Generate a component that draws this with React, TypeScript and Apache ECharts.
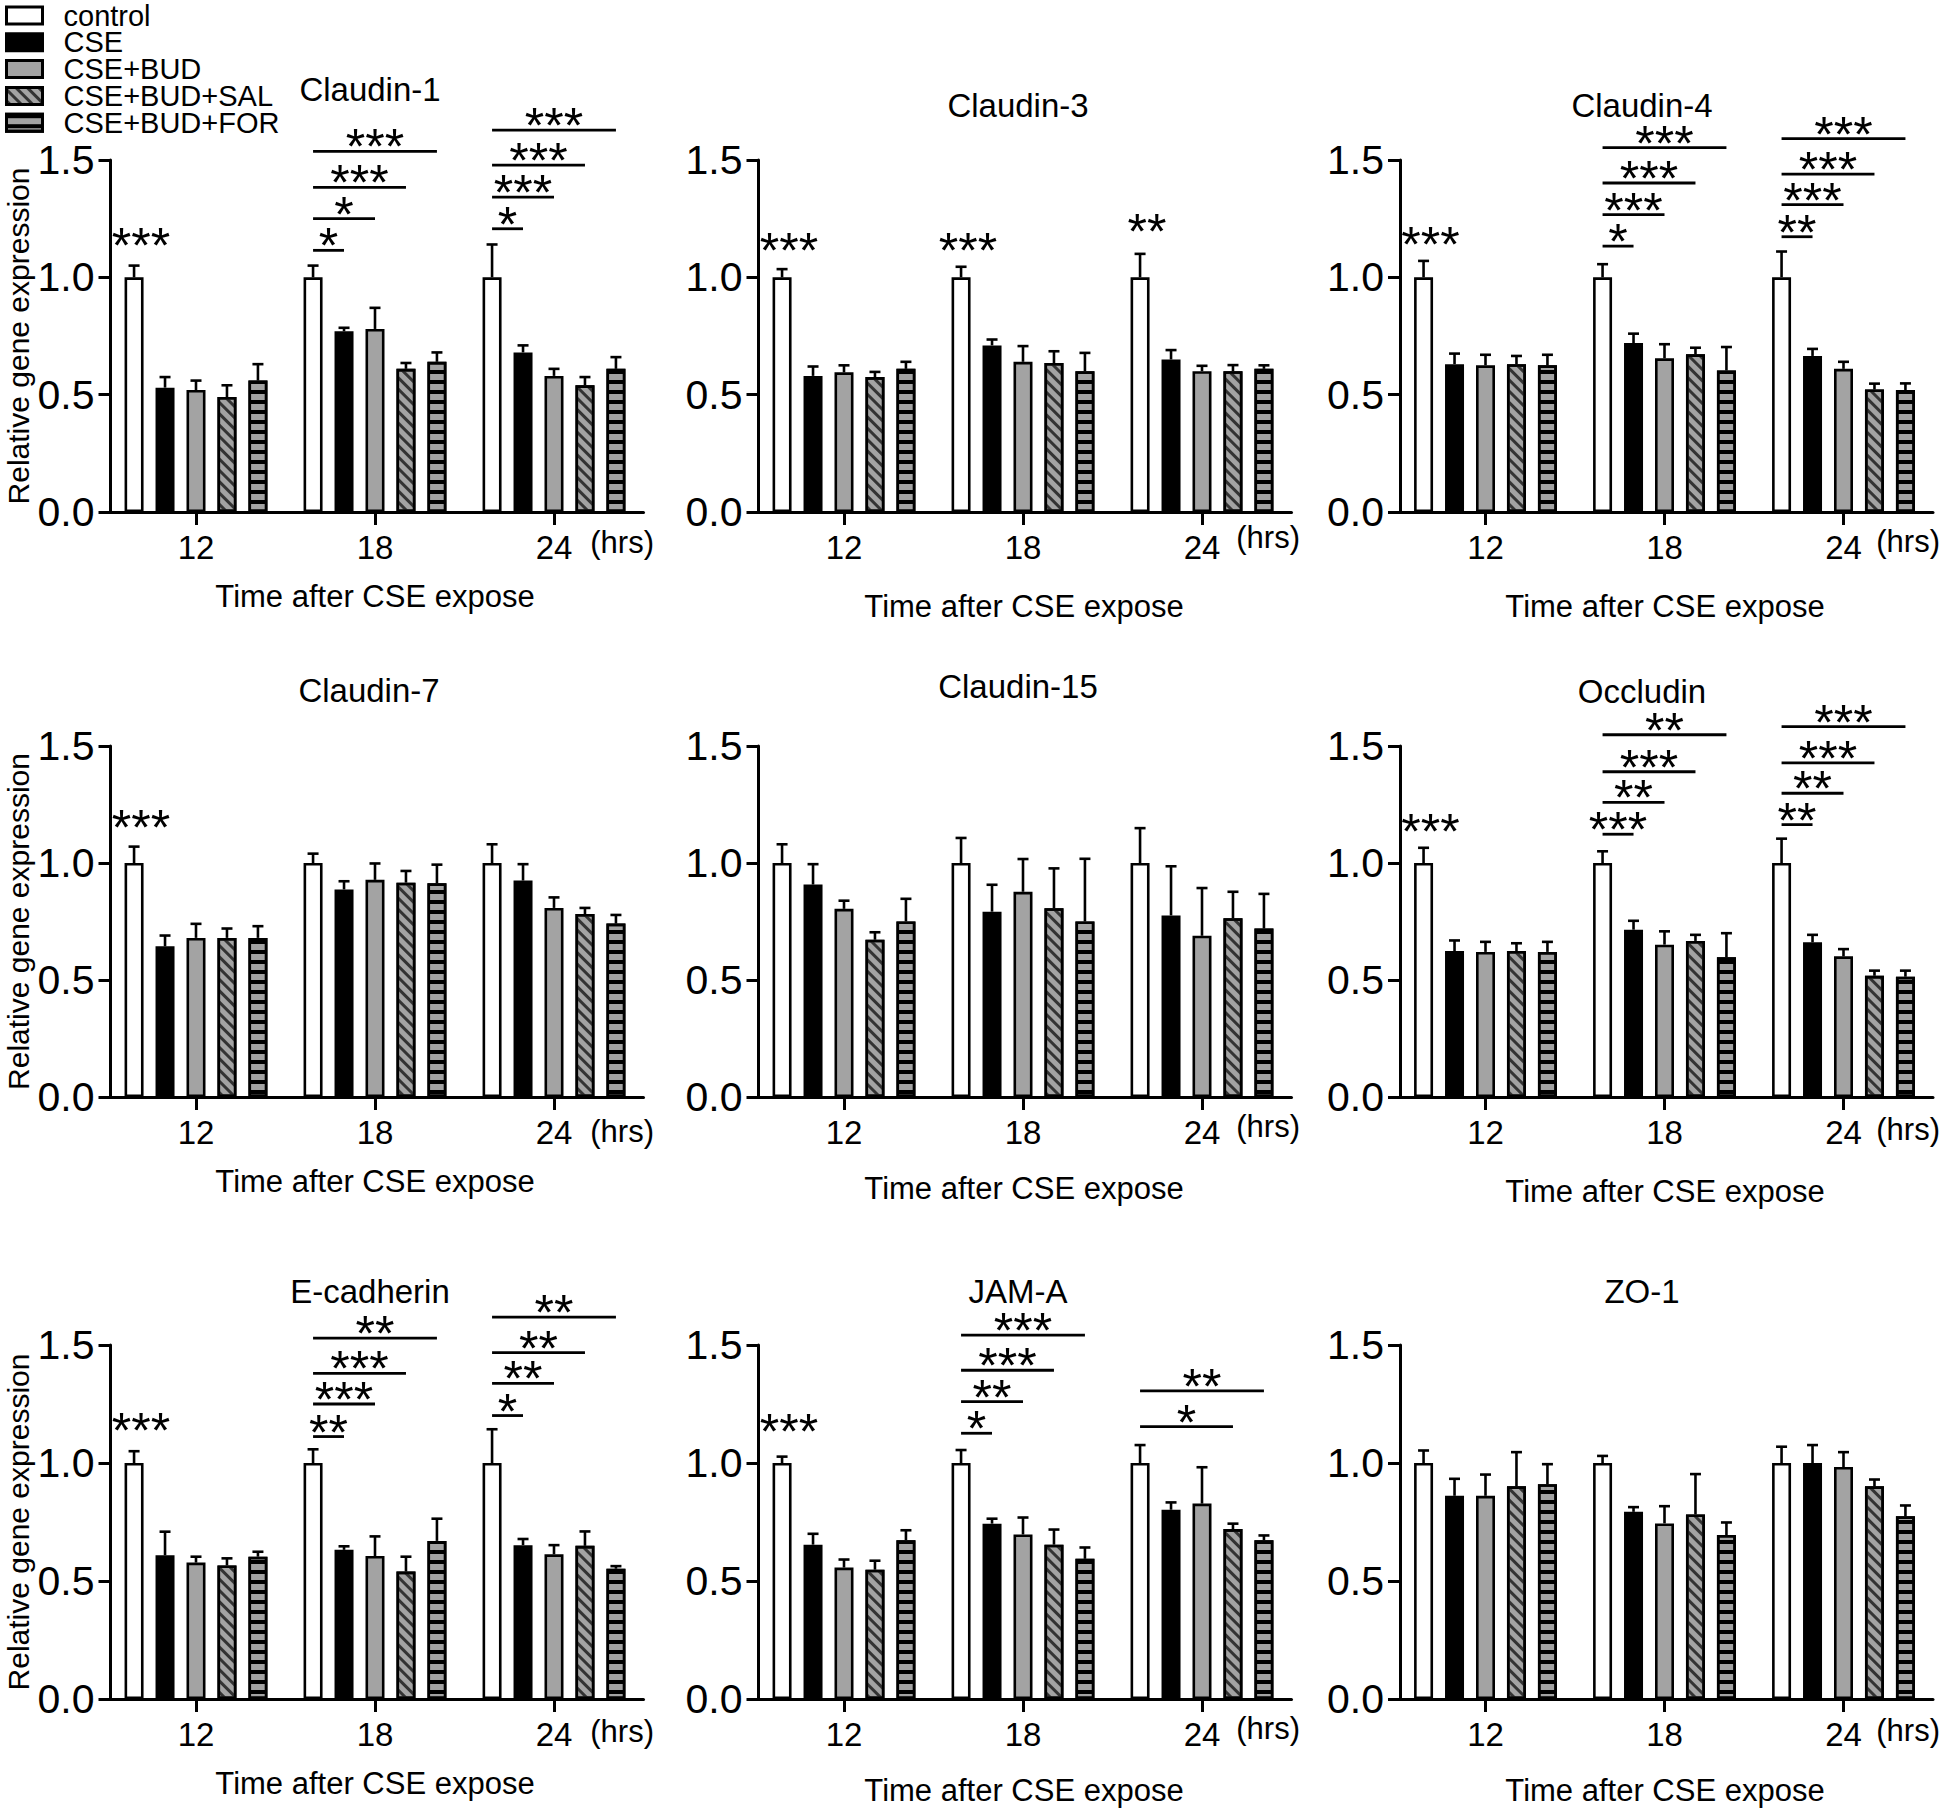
import React, { useEffect, useRef } from 'react';
import * as echarts from 'echarts';

const FONT = "'Liberation Sans', Arial, Helvetica, sans-serif";

const groups = ['control', 'CSE', 'CSE+BUD', 'CSE+BUD+SAL', 'CSE+BUD+FOR'];
const times = ['12', '18', '24'];
const panelTitles = ['Claudin-1', 'Claudin-3', 'Claudin-4', 'Claudin-7', 'Claudin-15', 'Occludin', 'E-cadherin', 'JAM-A', 'ZO-1'];

// means[group][time], errs[group][time]; sig: [timeIndex, targetGroup (-1 = over control), level, label]
const claudin1Mean = [[1, 1, 1], [0.53, 0.77, 0.68], [0.52, 0.78, 0.58], [0.49, 0.61, 0.54], [0.56, 0.64, 0.61]];
const claudin1Err = [[0.05, 0.05, 0.14], [0.045, 0.015, 0.03], [0.04, 0.09, 0.03], [0.05, 0.025, 0.035], [0.07, 0.04, 0.05]];
const claudin1Sig = [[0, -1, 1.164, '***'], [1, 1, 1.115, '*'], [1, 2, 1.25, '*'], [1, 3, 1.383, '***'], [1, 4, 1.537, '***'], [2, 1, 1.207, '*'], [2, 2, 1.342, '***'], [2, 3, 1.478, '***'], [2, 4, 1.627, '***']];

const claudin3Mean = [[1, 1, 1], [0.58, 0.71, 0.65], [0.595, 0.64, 0.6], [0.575, 0.635, 0.6], [0.61, 0.6, 0.61]];
const claudin3Err = [[0.035, 0.045, 0.1], [0.04, 0.025, 0.04], [0.03, 0.067, 0.023], [0.022, 0.05, 0.026], [0.03, 0.078, 0.015]];
const claudin3Sig = [[0, -1, 1.142, '***'], [1, -1, 1.142, '***'], [2, -1, 1.221, '**']];

const claudin4Mean = [[1, 1, 1], [0.63, 0.72, 0.665], [0.625, 0.655, 0.61], [0.63, 0.672, 0.522], [0.625, 0.603, 0.52]];
const claudin4Err = [[0.07, 0.056, 0.11], [0.045, 0.04, 0.03], [0.045, 0.06, 0.03], [0.035, 0.028, 0.025], [0.045, 0.1, 0.028]];
const claudin4Sig = [[0, -1, 1.168, '***'], [1, 1, 1.133, '*'], [1, 2, 1.267, '***'], [1, 3, 1.402, '***'], [1, 4, 1.553, '***'], [2, 1, 1.173, '**'], [2, 2, 1.31, '***'], [2, 3, 1.44, '***'], [2, 4, 1.591, '***']];

const claudin7Mean = [[1, 1, 1], [0.644, 0.887, 0.925], [0.68, 0.928, 0.808], [0.68, 0.916, 0.782], [0.68, 0.913, 0.741]];
const claudin7Err = [[0.07, 0.04, 0.08], [0.046, 0.035, 0.07], [0.06, 0.07, 0.045], [0.04, 0.05, 0.026], [0.05, 0.08, 0.037]];
const claudin7Sig = [[0, -1, 1.181, '***']];

const claudin15Mean = [[1, 1, 1], [0.908, 0.792, 0.776], [0.804, 0.877, 0.689], [0.672, 0.807, 0.764], [0.75, 0.75, 0.72]];
const claudin15Err = [[0.08, 0.107, 0.149], [0.087, 0.115, 0.21], [0.035, 0.14, 0.204], [0.032, 0.17, 0.113], [0.097, 0.268, 0.148]];
const claudin15Sig: any[] = [];

const occludinMean = [[1, 1, 1], [0.624, 0.715, 0.661], [0.62, 0.651, 0.601], [0.624, 0.667, 0.518], [0.62, 0.597, 0.514]];
const occludinErr = [[0.065, 0.05, 0.104], [0.045, 0.038, 0.032], [0.043, 0.057, 0.031], [0.033, 0.026, 0.022], [0.043, 0.103, 0.026]];
const occludinSig = [[0, -1, 1.164, '***'], [1, 1, 1.123, '***'], [1, 2, 1.259, '**'], [1, 3, 1.39, '***'], [1, 4, 1.548, '**'], [2, 1, 1.164, '**'], [2, 2, 1.298, '**'], [2, 3, 1.428, '***'], [2, 4, 1.583, '***']];

const ecadMean = [[1, 1, 1], [0.609, 0.632, 0.652], [0.578, 0.606, 0.613], [0.566, 0.54, 0.649], [0.603, 0.67, 0.552]];
const ecadErr = [[0.05, 0.058, 0.143], [0.1, 0.015, 0.026], [0.025, 0.083, 0.039], [0.03, 0.063, 0.061], [0.021, 0.094, 0.011]];
const ecadSig = [[0, -1, 1.166, '***'], [1, 1, 1.112, '**'], [1, 2, 1.25, '***'], [1, 3, 1.38, '***'], [1, 4, 1.529, '**'], [2, 1, 1.201, '*'], [2, 2, 1.337, '**'], [2, 3, 1.468, '**'], [2, 4, 1.618, '**']];

const jamaMean = [[1, 1, 1], [0.654, 0.743, 0.802], [0.557, 0.697, 0.828], [0.548, 0.654, 0.72], [0.673, 0.594, 0.673]];
const jamaErr = [[0.027, 0.055, 0.076], [0.046, 0.021, 0.031], [0.034, 0.072, 0.154], [0.038, 0.064, 0.023], [0.042, 0.048, 0.02]];
const jamaSig = [[0, -1, 1.161, '***'], [1, 1, 1.126, '*'], [1, 2, 1.26, '**'], [1, 3, 1.393, '***'], [1, 4, 1.542, '***'], [2, 3, 1.154, '*'], [2, 4, 1.306, '**']];

const zo1Mean = [[1, 1, 1], [0.861, 0.793, 1.0], [0.861, 0.744, 0.983], [0.901, 0.782, 0.901], [0.91, 0.695, 0.774]];
const zo1Err = [[0.053, 0.03, 0.069], [0.072, 0.02, 0.076], [0.09, 0.073, 0.063], [0.145, 0.171, 0.029], [0.085, 0.053, 0.046]];
const zo1Sig: any[] = [];

const panelMeans = [claudin1Mean, claudin3Mean, claudin4Mean, claudin7Mean, claudin15Mean, occludinMean, ecadMean, jamaMean, zo1Mean];
const panelErrs = [claudin1Err, claudin3Err, claudin4Err, claudin7Err, claudin15Err, occludinErr, ecadErr, jamaErr, zo1Err];
const panelSigs = [claudin1Sig, claudin3Sig, claudin4Sig, claudin7Sig, claudin15Sig, occludinSig, ecadSig, jamaSig, zo1Sig];

// ---- layout (pixels) ----
const COL_LEFT = [106.5, 754.5, 1396];
const ROW_TOP = [160, 746, 1345];
const ROW_H = [352, 351, 354];
const GRID_W = 537;
const BAR_W = 19;
const BAR_GAP = 0.63;
const STEP = BAR_W * (1 + BAR_GAP);
const CAP = 5.5;
const STAR_SIZE = 50;
const TITLE_POS = [[370, 89], [1018, 105], [1642, 105], [369, 690], [1018, 686], [1642, 691], [370, 1291], [1018, 1291], [1642, 1291]];
const XTITLE_X = [375, 1024, 1665];
const XTITLE_Y = [[596, 606, 606], [1181, 1188, 1191], [1783, 1790, 1790]];
const HRS_X = [654, 1300, 1940];
const HRS_Y = [[542, 537, 541], [1131, 1126, 1129], [1731, 1728, 1730]];

const GRAY = '#a3a3a3';
const groupStyles: any[] = [
  { color: '#ffffff', borderColor: '#000', borderWidth: 2.6 },
  { color: '#000000', borderColor: '#000', borderWidth: 2.6 },
  { color: GRAY, borderColor: '#000', borderWidth: 2.6 },
  { color: GRAY, borderColor: '#000', borderWidth: 2.6, decal: { symbol: 'rect', symbolSize: 1, dashArrayX: [1, 0], dashArrayY: [3, 5], rotation: Math.PI / 4, color: '#333333' } },
  { color: GRAY, borderColor: '#000', borderWidth: 2.6, decal: { symbol: 'rect', symbolSize: 1, dashArrayX: [1, 0], dashArrayY: [4, 5.5], rotation: 0, color: '#000000' } },
];

function buildOption() {
  const grid: any[] = [];
  const xAxis: any[] = [];
  const yAxis: any[] = [];
  const series: any[] = [];
  const graphic: any[] = [];

  for (let p = 0; p < 9; p++) {
    const row = Math.floor(p / 3);
    const col = p % 3;
    grid.push({ left: COL_LEFT[col], top: ROW_TOP[row], width: GRID_W, height: ROW_H[row], containLabel: false });
    xAxis.push({
      type: 'category', gridIndex: p, data: times,
      axisLine: { show: true, lineStyle: { color: '#000', width: 3 } },
      axisTick: { show: true, alignWithLabel: true, length: 13, lineStyle: { color: '#000', width: 3 } },
      axisLabel: { color: '#000', fontSize: 33, fontFamily: FONT, margin: 19 },
      splitLine: { show: false },
    });
    yAxis.push({
      type: 'value', gridIndex: p, min: 0, max: 1.5, interval: 0.5, offset: -4,
      axisLine: { show: true, lineStyle: { color: '#000', width: 3 } },
      axisTick: { show: true, length: 12, lineStyle: { color: '#000', width: 3 } },
      axisLabel: { color: '#000', fontSize: 41, fontFamily: FONT, margin: 16, formatter: (v: number) => v.toFixed(1) },
      splitLine: { show: false },
    });

    const means = panelMeans[p];
    const errs = panelErrs[p];
    for (let g = 0; g < 5; g++) {
      series.push({
        type: 'bar', name: groups[g], xAxisIndex: p, yAxisIndex: p,
        data: means[g], barWidth: BAR_W, barGap: (BAR_GAP * 100) + '%',
        itemStyle: groupStyles[g], silent: true, emphasis: { disabled: true }, z: 2,
      });
    }
    const errData: number[][] = [];
    for (let g = 0; g < 5; g++) for (let t = 0; t < 3; t++) errData.push([t, g, means[g][t], errs[g][t]]);
    series.push({
      type: 'custom', name: 'err' + p, xAxisIndex: p, yAxisIndex: p, silent: true, z: 3,
      encode: { x: 0, y: 2 }, data: errData, clip: false,
      renderItem: (params: any, api: any) => {
        const t = api.value(0), g = api.value(1), m = api.value(2), e = api.value(3);
        const base = api.coord([t, m]);
        const top = api.coord([t, m + e]);
        const x = base[0] + (g - 2) * STEP;
        const st = { stroke: '#000', lineWidth: 2.6 };
        return {
          type: 'group', children: [
            { type: 'line', shape: { x1: x, y1: base[1], x2: x, y2: top[1] }, style: st },
            { type: 'line', shape: { x1: x - CAP, y1: top[1], x2: x + CAP, y2: top[1] }, style: st },
          ],
        };
      },
    });
    const sig = panelSigs[p];
    if (sig.length) {
      series.push({
        type: 'custom', name: 'sig' + p, xAxisIndex: p, yAxisIndex: p, silent: true, z: 4,
        encode: { x: 0, y: 2 }, clip: false,
        data: sig.map((s: any) => [s[0], s[1], s[2]]),
        renderItem: (params: any, api: any) => {
          const t = api.value(0), g = api.value(1), lv = api.value(2);
          const label = sig[params.dataIndex][3];
          const pt = api.coord([t, lv]);
          const x0 = pt[0] - 2 * STEP;
          const ts = { fill: '#000', fontSize: STAR_SIZE, fontFamily: FONT, align: 'center', verticalAlign: 'middle' };
          if (g < 0) {
            return { type: 'text', x: x0 + 7, y: pt[1] + 7, style: { ...ts, text: label } };
          }
          const x1 = pt[0] + (g - 2) * STEP;
          return {
            type: 'group', children: [
              { type: 'line', shape: { x1: x0, y1: pt[1], x2: x1, y2: pt[1] }, style: { stroke: '#000', lineWidth: 2.8 } },
              { type: 'text', x: (x0 + x1) / 2, y: pt[1] - 4, style: { ...ts, text: label } },
            ],
          };
        },
      });
    }

    graphic.push({ type: 'text', x: TITLE_POS[p][0], y: TITLE_POS[p][1], style: { text: panelTitles[p], fill: '#000', fontSize: 33, fontFamily: FONT, align: 'center', verticalAlign: 'middle' } });
    graphic.push({ type: 'text', x: XTITLE_X[col], y: XTITLE_Y[row][col], style: { text: 'Time after CSE expose', fill: '#000', fontSize: 31, fontFamily: FONT, align: 'center', verticalAlign: 'middle' } });
    graphic.push({ type: 'text', x: HRS_X[col], y: HRS_Y[row][col], style: { text: '(hrs)', fill: '#000', fontSize: 31, fontFamily: FONT, align: 'right', verticalAlign: 'middle' } });
    if (col === 0) {
      graphic.push({ type: 'text', x: 18, y: ROW_TOP[row] + ROW_H[row] / 2, rotation: Math.PI / 2, style: { text: 'Relative gene expression', fill: '#000', fontSize: 30, fontFamily: FONT, align: 'center', verticalAlign: 'middle' } });
    }
  }

  return {
    animation: false,
    backgroundColor: '#ffffff',
    legend: {
      data: groups, orient: 'vertical', left: 5, top: 1, icon: 'rect', padding: 0,
      itemWidth: 36, itemHeight: 17, itemGap: -2.2,
      itemStyle: { borderColor: '#000', borderWidth: 3 },
      textStyle: { color: '#000', fontSize: 29, fontFamily: FONT, lineHeight: 27, padding: [0, 0, 0, 16] },
      selectedMode: false,
    },
    grid, xAxis, yAxis, series, graphic,
  };
}

export default function App() {
  const ref = useRef<HTMLDivElement>(null);
  useEffect(() => {
    if (!ref.current) return;
    const chart = echarts.init(ref.current, undefined, { renderer: 'svg' });
    chart.setOption(buildOption() as any);
    return () => chart.dispose();
  }, []);
  return <div ref={ref} style={{ position: 'absolute', left: 0, top: 0, width: 1946, height: 1812, background: '#fff' }} />;
}
